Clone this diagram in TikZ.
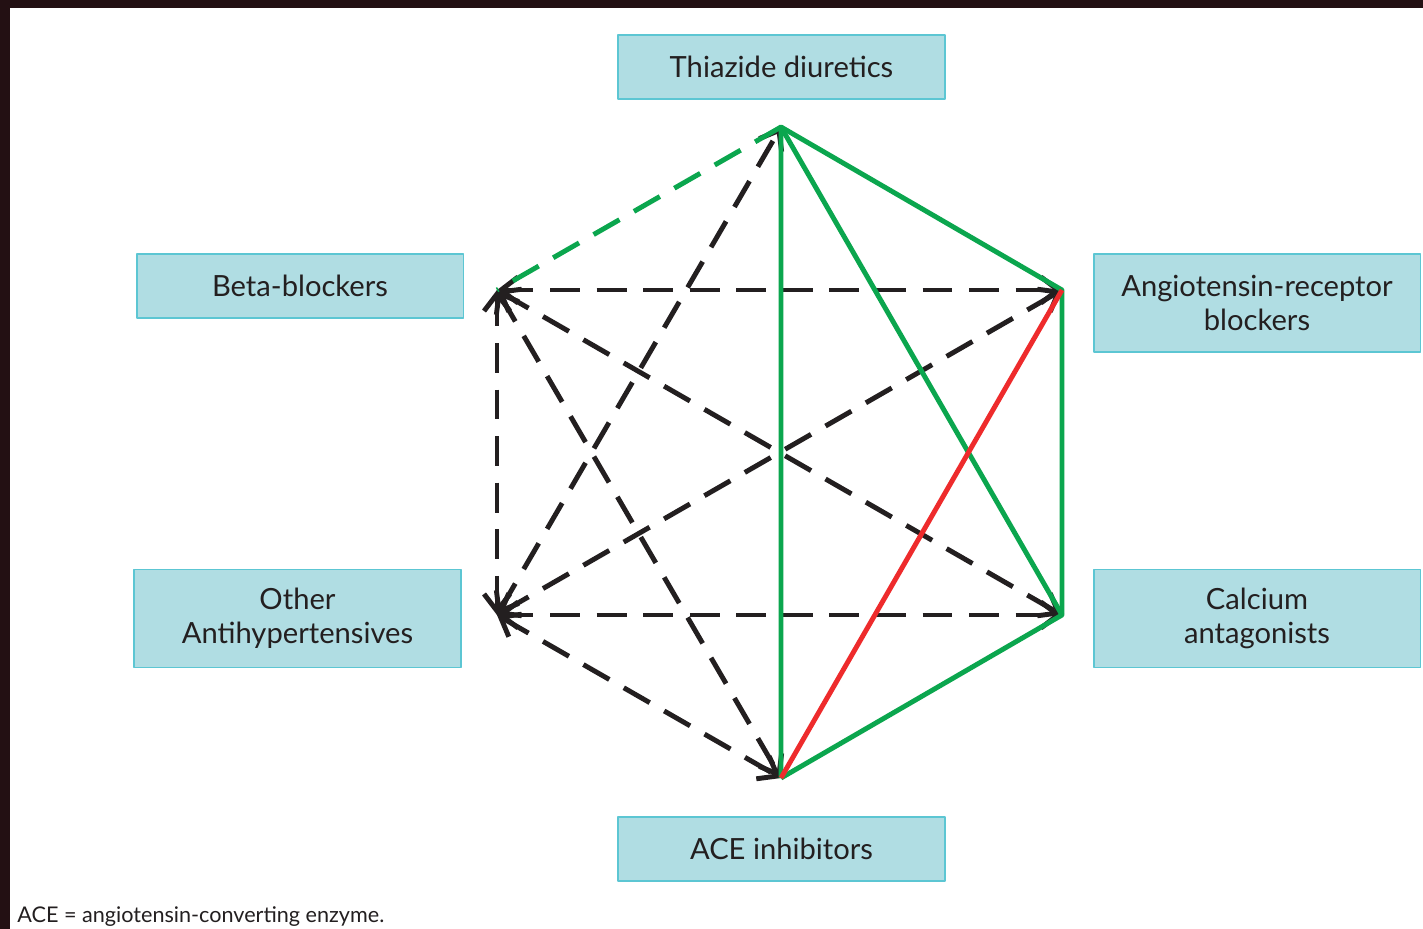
\documentclass[tikz,border=0pt]{standalone}
\usepackage{fontspec}
\setmainfont{Lato}
\usetikzlibrary{arrows.meta}
\definecolor{ink}{HTML}{231F20}
\definecolor{boxfill}{HTML}{B0DDE3}
\definecolor{boxline}{HTML}{5CC6D3}
\definecolor{okcol}{HTML}{0BA64E}
\definecolor{badcol}{HTML}{EE2B2C}
\definecolor{framecol}{HTML}{231013}

\begin{document}
\begin{tikzpicture}[x=0.02cm, y=-0.02cm, line join=round,
  drug/.style={draw=boxline, fill=boxfill, line width=1.1pt, text=ink,
               minimum width=6.54cm, minimum height=1.28cm, inner sep=0pt,
               align=center, font=\fontsize{16.6}{19.5}\selectfont},
  drugtall/.style={drug, minimum height=1.96cm},
  pair/.style={line width=2.8pt},
  good/.style={pair, okcol},
  maybe/.style={pair, okcol, dash pattern=on 17pt off 9.5pt},
  less/.style={pair, ink, dash pattern=on 17pt off 9.5pt,
               {Straight Barb[length=3.4mm,width=5.2mm]}-{Straight Barb[length=3.4mm,width=5.2mm]}},
  bad/.style={pair, badcol}]

% ---- page and frame ---------------------------------------------------
\useasboundingbox (0,0) rectangle (1423,929);
\fill[framecol] (0,0) rectangle (1423,929);
\fill[white] (10,8) rectangle (1423,929);

% ---- the six classes ---------------------------------------------------
\node[drug] (thz) at (781.5,67) {Thiazide diuretics};
\node[drug] (bb) at (300,286) {Beta-blockers};
\node[drugtall] (arb) at (1257,303) {Angiotensin-receptor\\blockers};
\node[drugtall] (oth) at (297.5,618.5) {Other\\Antihypertensives};
\node[drugtall] (cca) at (1257,618.5) {Calcium\\antagonists};
\node[drug] (ace) at (781.5,849) {ACE inhibitors};

% ---- hexagon corners ---------------------------------------------------
\coordinate (vT) at (781,127);
\coordinate (vUR) at (1062,290);
\coordinate (vLR) at (1062,615);
\coordinate (vB) at (781,778);
\coordinate (vLL) at (497,615);
\coordinate (vUL) at (497,290);

% ---- less-used combinations --------------------------------------------
\draw[less] (vUL) -- (vUR);
\draw[less] (vUL) -- (vLL);
\draw[less] (vUL) -- (vLR);
\draw[less] (vUL) -- (vB);
\draw[less] (vLL) -- (vT);
\draw[less] (vLL) -- (vUR);
\draw[less] (vLL) -- (vLR);
\draw[less] (vLL) -- (vB);

% ---- possibly useful -----------------------------------------------------
\draw[maybe] (vT) -- (vUL);

% ---- preferred combinations -----------------------------------------------
\draw[good] (vB) -- (vT) -- (vUR) -- (vLR) -- (vB);
\draw[good] (vT) -- (vLR);

% ---- not recommended ------------------------------------------------------
\draw[bad] (vUR) -- (vB);

% ---- footnote -------------------------------------------------------------
\node[anchor=base west, inner sep=0pt, text=ink, font=\fontsize{12.3}{14}\selectfont]
  (note) at (17,922) {ACE = angiotensin-converting enzyme.};

\end{tikzpicture}
\end{document}
